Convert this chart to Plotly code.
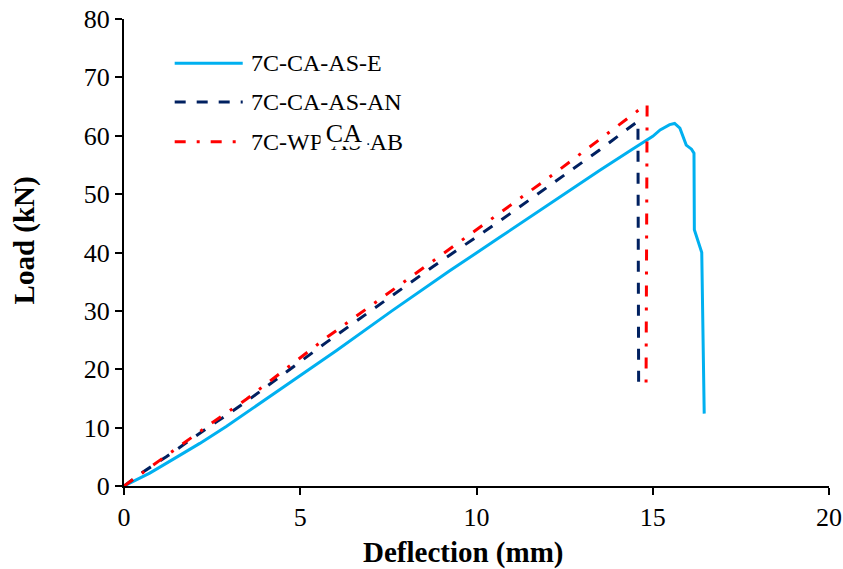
import plotly.graph_objects as go

# Load-deflection curves (deflection in mm, load in kN)
e_defl = [0.0, 0.73, 1.4, 2.15, 2.9, 3.57, 4.8, 6.03, 7.6, 9.25, 10.66, 12.2, 13.5, 14.4, 15.0, 15.21, 15.48, 15.62, 15.77, 15.95, 16.1, 16.17, 16.18, 16.39, 16.46]
e_load = [0.0, 2.2, 4.6, 7.3, 10.2, 13.0, 18.1, 23.2, 30.0, 36.9, 42.6, 48.9, 54.1, 57.6, 59.9, 61.0, 61.9, 62.1, 61.3, 58.4, 57.7, 57.0, 43.9, 40.0, 12.4]

an_defl = [0.0, 0.54, 1.2, 1.8, 2.4, 3.0, 3.5, 5.74, 8.77, 10.66, 12.0, 13.5, 14.58, 14.6]
an_load = [0.0, 2.4, 5.0, 7.6, 10.1, 12.5, 14.6, 24.6, 37.6, 45.4, 51.2, 57.6, 62.5, 16.1]

ab_defl = [0.0, 0.55, 1.2, 1.8, 2.4, 3.0, 3.48, 5.74, 8.77, 10.66, 12.0, 13.5, 14.6, 14.84, 14.81]
ab_load = [0.0, 2.4, 5.1, 7.8, 10.4, 12.9, 14.9, 25.4, 38.6, 46.8, 52.6, 59.4, 64.4, 65.3, 17.0]

series_names = ["7C-CA-AS-E", "7C-CA-AS-AN", "7C-WP-AS-AB"]
series_colors = ["#00B0F0", "#002060", "#FF0000"]
series_dash = ["solid", "11px,11px", "11px,11px,3px,11px"]

x_ticks = [0, 5, 10, 15, 20]
y_ticks = [0, 10, 20, 30, 40, 50, 60, 70, 80]

FONT = "Liberation Serif"

fig = go.Figure()
for xs, ys, name, color, dash in zip(
    [e_defl, an_defl, ab_defl], [e_load, an_load, ab_load],
    series_names, series_colors, series_dash,
):
    fig.add_trace(go.Scatter(
        x=xs, y=ys, mode="lines", name=name,
        line=dict(color=color, width=3, dash=dash),
        showlegend=False,
    ))

# Hand-built legend: long line samples with labels beside them
legend_rows_y = [0.905, 0.8223, 0.7373]
for name, color, dash, yy in zip(series_names, series_colors, series_dash, legend_rows_y):
    fig.add_shape(type="line", xref="paper", yref="paper",
                  x0=0.0719, x1=0.1684, y0=yy, y1=yy,
                  line=dict(color=color, width=3, dash=dash))
    fig.add_annotation(xref="paper", yref="paper", x=0.177, y=yy,
                       text=name, showarrow=False, xanchor="left", yanchor="middle",
                       font=dict(family=FONT, size=24, color="black"))

# Stray text box sitting over the third legend label
fig.add_annotation(xref="paper", yref="paper", x=0.3116, y=0.756,
                   text="CA", showarrow=False, xanchor="center", yanchor="middle",
                   bgcolor="white", borderpad=0, width=46, height=26,
                   font=dict(family=FONT, size=26, color="black"))

# Axis titles
fig.add_annotation(xref="paper", yref="paper", x=0.482, y=-0.142,
                   text="<b>Deflection (mm)</b>", showarrow=False,
                   xanchor="center", yanchor="middle",
                   font=dict(family=FONT, size=29, color="black"))
fig.add_annotation(xref="paper", yref="paper", x=-0.141, y=0.525,
                   text="<b>Load (kN)</b>", showarrow=False, textangle=-90,
                   xanchor="center", yanchor="middle",
                   font=dict(family=FONT, size=29, color="black"))

fig.update_xaxes(
    range=[0, 20], tickvals=x_ticks, showgrid=False, zeroline=False,
    showline=True, linecolor="black", linewidth=2,
    ticks="outside", ticklen=7, tickwidth=2, tickcolor="black",
    tickfont=dict(family=FONT, size=26, color="black"), automargin=False,
)
fig.update_yaxes(
    range=[0, 80], tickvals=y_ticks, showgrid=False, zeroline=False,
    showline=True, linecolor="black", linewidth=2,
    ticks="outside", ticklen=7, tickwidth=2, tickcolor="black",
    tickfont=dict(family=FONT, size=26, color="black"), automargin=False,
)

fig.update_layout(
    width=843, height=569,
    margin=dict(l=124, r=14, t=19, b=83),
    paper_bgcolor="white", plot_bgcolor="white",
    font=dict(family=FONT, color="black"),
    showlegend=False,
)

fig.write_html("out.html")
